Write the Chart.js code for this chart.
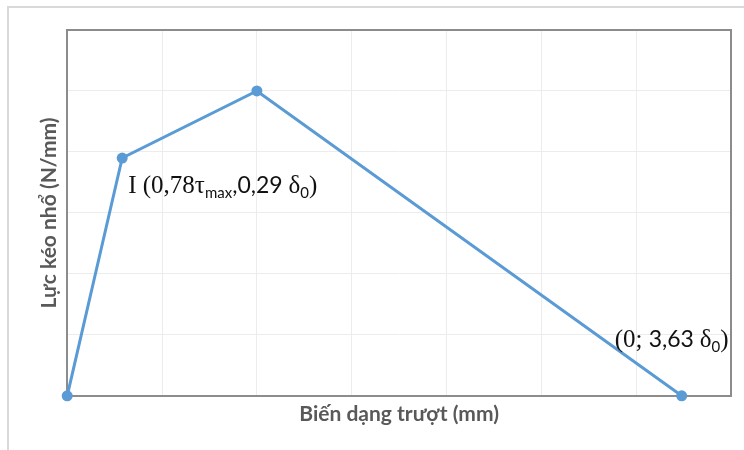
<!DOCTYPE html>
<html>
<head>
<meta charset="utf-8">
<script src="https://cdn.jsdelivr.net/npm/chart.js@4.4.1/dist/chart.umd.min.js"></script>
<style>
  html, body { margin: 0; padding: 0; background: #fff; }
  #wrap { position: relative; width: 744px; height: 450px; }
  #frame {
    position: absolute; left: 7px; top: 6px; right: -10px; bottom: -10px;
    border-top: 2px solid #d9d9d9; border-left: 2px solid #d9d9d9;
  }
  canvas { position: absolute; left: 0; top: 0; }
</style>
</head>
<body>
<div id="wrap">
  <div id="frame"></div>
  <canvas id="chart"></canvas>
</div>
<script>
// ── DATA ──
const slipValues  = [0, 0.58, 2, 6.48];   // Biến dạng trượt
const forceValues = [0, 3.9, 5, 0];       // Lực kéo nhổ
const xTickRange  = [0, 7];
const yTickRange  = [0, 6];

// annotation text pieces: [text, style]   style: s = serif, n = sans, b = subscript sans
const labelI   = [['I (0,78τ', 's'], ['max', 'b'], [',0,29 ', 'n'], ['δ', 's'], ['0', 'b'], [')', 's']];
const labelEnd = [['(0; ', 's'], ['3,63 ', 'n'], ['δ', 's'], ['0', 'b'], [')', 's']];

const COLORS = {
  line:  '#5b9bd5',
  grid:  '#ececec',
  axis:  '#8c8c8c',
  title: '#595959',
  text:  '#111111',
};

const FONTS = {
  s: '25px "Liberation Serif", serif',
  n: '23px Lato, sans-serif',
  b: '15px Lato, sans-serif',
};

// ── PLOT FRAME (top / right edges) ──
const frameBox = {
  id: 'frameBox',
  afterDatasetsDraw(chart) {
    const { ctx, chartArea: a } = chart;
    ctx.save();
    ctx.strokeStyle = COLORS.axis;
    ctx.lineWidth = 2;
    ctx.beginPath();
    ctx.moveTo(a.left, a.top);
    ctx.lineTo(a.right, a.top);
    ctx.lineTo(a.right, a.bottom);
    ctx.stroke();
    ctx.restore();
  }
};

// ── POINT LABELS ──
function drawPieces(ctx, pieces, x, y) {
  pieces.forEach(([txt, st]) => {
    ctx.font = FONTS[st];
    ctx.fillText(txt, x, st === 'b' ? y + 5 : y);
    x += ctx.measureText(txt).width;
  });
}

const pointLabels = {
  id: 'pointLabels',
  afterDatasetsDraw(chart) {
    const { ctx, scales: { x, y } } = chart;
    ctx.save();
    ctx.fillStyle = COLORS.text;
    ctx.textBaseline = 'alphabetic';
    drawPieces(ctx, labelI, x.getPixelForValue(slipValues[1]) + 6, y.getPixelForValue(forceValues[1]) + 35);
    drawPieces(ctx, labelEnd, x.getPixelForValue(slipValues[3]) - 67, y.getPixelForValue(forceValues[3]) - 49);
    ctx.restore();
  }
};

new Chart(document.getElementById('chart'), {
  type: 'line',
  data: {
    datasets: [{
      data: slipValues.map((v, i) => ({ x: v, y: forceValues[i] })),
      borderColor: COLORS.line,
      backgroundColor: COLORS.line,
      borderWidth: 3,
      pointRadius: 5.5,
      pointBorderWidth: 0,
      pointBackgroundColor: COLORS.line,
      tension: 0,
      clip: false,
    }]
  },
  options: {
    responsive: true,
    maintainAspectRatio: false,
    animation: false,
    layout: { padding: { left: 33, right: 13, top: 30, bottom: 19 } },
    plugins: { legend: { display: false }, tooltip: { enabled: false } },
    scales: {
      x: {
        type: 'linear',
        min: xTickRange[0], max: xTickRange[1],
        ticks: { display: false, stepSize: 1 },
        grid: { color: COLORS.grid, drawTicks: false },
        border: { display: true, color: COLORS.axis, width: 2 },
        title: {
          display: true, text: 'Biến dạng trượt (mm)', color: COLORS.title,
          font: { family: 'Lato', size: 21, weight: 'bold' },
          padding: { top: 6, bottom: 4 }
        }
      },
      y: {
        type: 'linear',
        min: yTickRange[0], max: yTickRange[1],
        ticks: { display: false, stepSize: 1 },
        grid: { color: COLORS.grid, drawTicks: false },
        border: { display: true, color: COLORS.axis, width: 2 },
        title: {
          display: true, text: 'Lực kéo nhổ (N/mm)', color: COLORS.title,
          font: { family: 'Lato', size: 21, weight: 'bold' },
          padding: { top: 4, bottom: 5 }
        }
      }
    }
  },
  plugins: [frameBox, pointLabels]
});
</script>
</body>
</html>
